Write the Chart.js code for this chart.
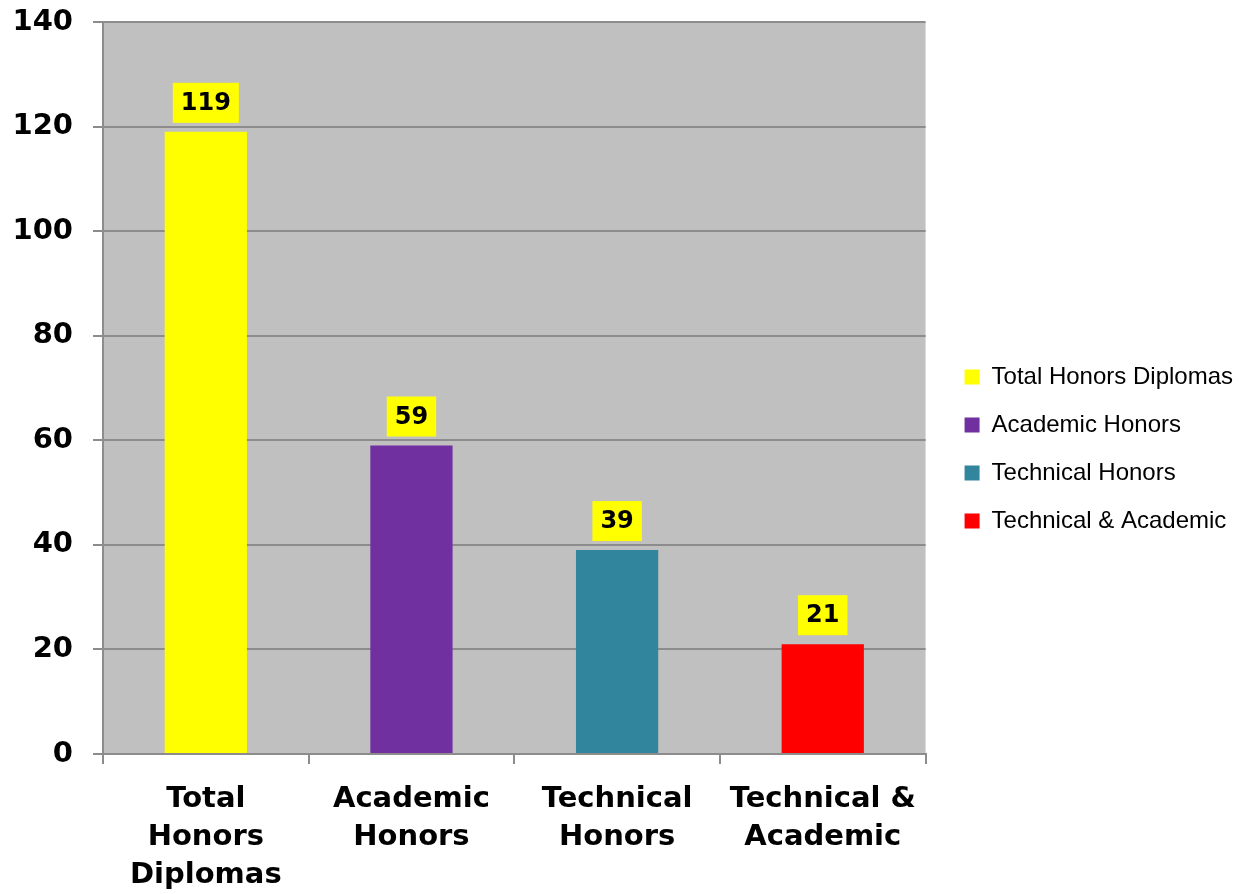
<!DOCTYPE html>
<html>
<head>
<meta charset="utf-8">
<script src="https://cdn.jsdelivr.net/npm/chart.js@4.4.1/dist/chart.umd.min.js"></script>
<style>
html, body { margin: 0; padding: 0; background: #fff; }
#wrap { width: 1243px; height: 894px; position: relative; }
</style>
</head>
<body>
<div id="wrap"><canvas id="myChart"></canvas></div>
<script>
// data
const categories = [["Total", "Honors", "Diplomas"], ["Academic", "Honors"], ["Technical", "Honors"], ["Technical &", "Academic"]];
const legendNames = ["Total Honors Diplomas", "Academic Honors", "Technical Honors", "Technical & Academic"];
const honorsCounts = [119, 59, 39, 21];
const barColors = ["#ffff00", "#7030a0", "#31859c", "#ff0000"];

const fontFamily = "'DejaVu Sans', Verdana, sans-serif";
const gridGray = "#8c8c8c";

// grey plot area
const plotBackground = {
    id: "plotBackground",
    beforeDraw(chart) {
        const a = chart.chartArea;
        const ctx = chart.ctx;
        ctx.save();
        ctx.fillStyle = "#c0c0c0";
        ctx.fillRect(a.left, a.top, a.right - a.left, a.bottom - a.top);
        ctx.restore();
    }
};

// yellow value boxes above the bars
const valueLabels = {
    id: "valueLabels",
    afterDatasetsDraw(chart) {
        const ctx = chart.ctx;
        const meta = chart.getDatasetMeta(0);
        ctx.save();
        ctx.font = "bold 24px " + fontFamily;
        ctx.textAlign = "center";
        ctx.textBaseline = "middle";
        meta.data.forEach(function(bar, i) {
            const txt = String(chart.data.datasets[0].data[i]);
            const w = ctx.measureText(txt).width + 16;
            const h = 40;
            const bottom = bar.y - 9;
            ctx.fillStyle = "#ffff00";
            ctx.fillRect(bar.x - w / 2, bottom - h, w, h);
            ctx.fillStyle = "#000";
            ctx.fillText(txt, bar.x, bottom - h / 2 + 1);
        });
        ctx.restore();
    }
};

new Chart(document.getElementById("myChart"), {
    type: "bar",
    data: {
        labels: categories,
        datasets: [{
            label: "Honors",
            data: honorsCounts,
            backgroundColor: barColors,
            borderWidth: 0,
            barPercentage: 0.4,
            categoryPercentage: 1.0
        }]
    },
    plugins: [plotBackground, valueLabels],
    options: {
        responsive: true,
        maintainAspectRatio: false,
        animation: false,
        layout: { padding: { top: 4, bottom: 0, left: 0, right: 0 } },
        plugins: {
            tooltip: { enabled: false },
            legend: {
                position: "right",
                align: "center",
                maxWidth: 330,
                labels: {
                    boxWidth: 15,
                    boxHeight: 15,
                    padding: 24,
                    color: "#000",
                    font: { family: "'Liberation Sans', Arial, sans-serif", size: 24 },
                    generateLabels: function(chart) {
                        return legendNames.map(function(name, i) {
                            return {
                                text: name,
                                fillStyle: barColors[i],
                                strokeStyle: barColors[i],
                                lineWidth: 0,
                                hidden: false,
                                index: i,
                                datasetIndex: 0
                            };
                        });
                    }
                },
                onClick: function() {}
            }
        },
        scales: {
            x: {
                grid: {
                    display: true,
                    drawOnChartArea: false,
                    offset: true,
                    color: gridGray,
                    lineWidth: 2,
                    tickLength: 10
                },
                border: { color: gridGray, width: 2 },
                ticks: {
                    color: "#000",
                    font: { family: fontFamily, size: 29, weight: "bold", lineHeight: 1.31 },
                    padding: 16,
                    maxRotation: 0,
                    autoSkip: false
                },
                afterFit: function(s) { s.height = 140; }
            },
            y: {
                min: 0,
                max: 140,
                ticks: {
                    stepSize: 20,
                    color: "#000",
                    font: { family: fontFamily, size: 29, weight: "bold", lineHeight: 1.4 },
                    padding: 20
                },
                grid: { color: gridGray, lineWidth: 2, tickLength: 10 },
                border: { color: gridGray, width: 2 },
                afterFit: function(s) {
                    s.width = 103;
                    s.paddingTop = 22;
                    s.paddingBottom = 0;
                }
            },
            gap: {
                type: "linear",
                position: "right",
                display: true,
                grid: { display: false },
                border: { display: false },
                ticks: { display: false },
                afterFit: function(s) { s.width = 15; }
            }
        }
    }
});
</script>
</body>
</html>
